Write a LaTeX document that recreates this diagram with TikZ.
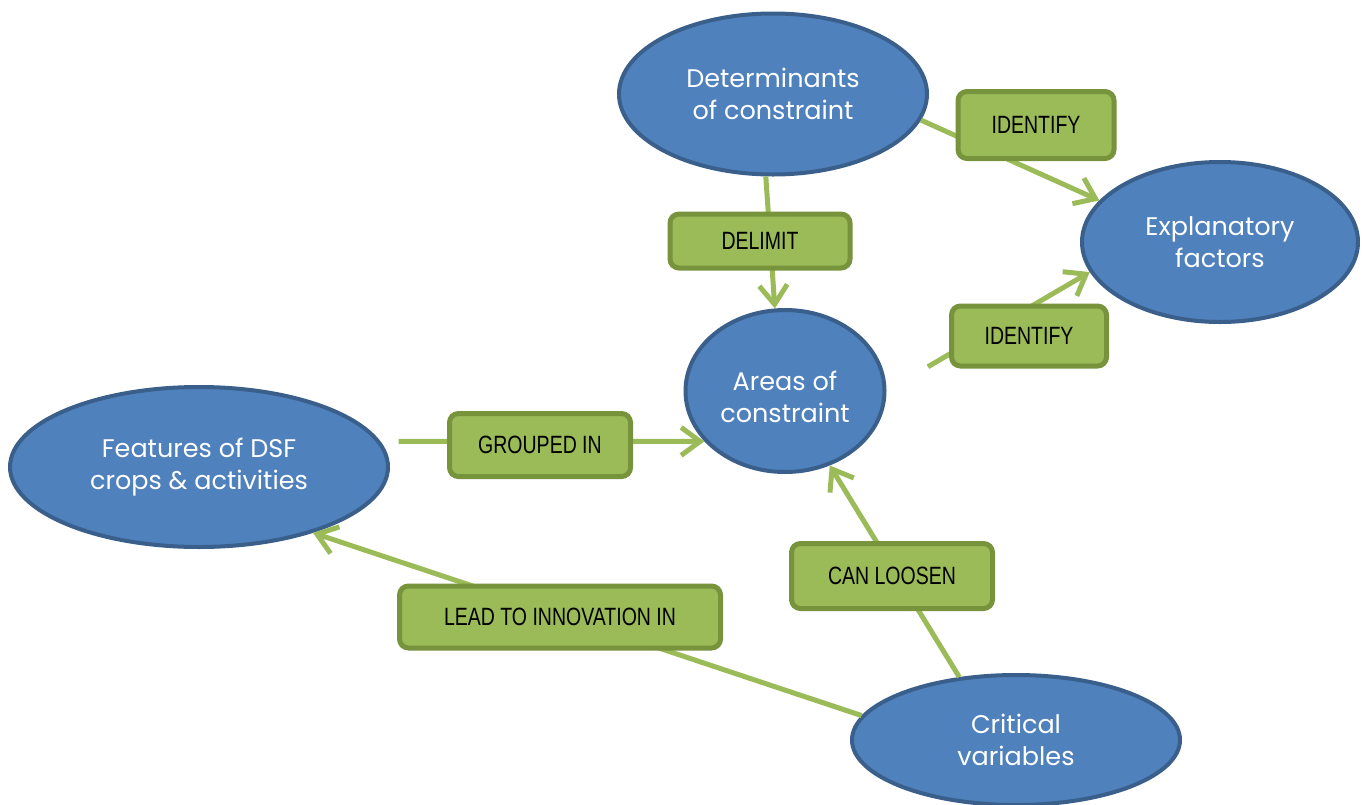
\documentclass[tikz,border=0pt]{standalone}
\usepackage{fontspec}
\usetikzlibrary{shapes.geometric,arrows.meta}
\newfontfamily\conceptfont{Poppins}
\newfontfamily\relfont[FakeStretch=0.78]{Liberation Sans}
\definecolor{ellfill}{HTML}{4F81BD}
\definecolor{ellborder}{HTML}{3A5F8B}
\definecolor{boxfill}{HTML}{9BBB59}
\definecolor{boxborder}{HTML}{77933C}
\definecolor{linegreen}{HTML}{9BBB59}
\tikzset{
  concept/.style={ellipse, draw=ellborder, fill=ellfill, line width=4pt, text=white,
    align=center, inner sep=0pt, font=\conceptfont\fontsize{25.5}{32}\selectfont},
  relbox/.style={rectangle, rounded corners=9pt, draw=boxborder, fill=boxfill,
    line width=5pt, text=black, inner sep=0pt, font=\relfont\fontsize{25}{28}\selectfont},
  conn/.style={draw=linegreen, line width=5pt, -{Straight Barb[length=19pt,width=28pt]}},
}
\begin{document}
\begin{tikzpicture}[x=1pt,y=-1pt]
\useasboundingbox (0,0) rectangle (1369,804);
% concepts
\node[concept, minimum width=308pt, minimum height=161pt] (det) at (773,94) {Determinants\\of constraint};
\node[concept, minimum width=276pt, minimum height=160pt] (expl) at (1220,242) {Explanatory\\factors};
\node[concept, minimum width=199pt, minimum height=162pt] (areas) at (785,391) {\rule{0pt}{31pt}Areas of\\constraint};
\node[concept, minimum width=378pt, minimum height=160pt] (feat) at (199,467) {Features of DSF\\crops \& activities};
\node[concept, minimum width=328pt, minimum height=130pt] (crit) at (1016,740) {Critical\\variables};
% connectors
\draw[conn] (det.-10) -- (expl.161);
\draw[conn] (det.-95) -- (areas.97);
\draw[conn, shorten <=48pt] (areas.0) -- (expl.193);
\draw[conn, shorten <=18pt] (feat.8) -- (areas.212);
\draw[conn] (crit.132) -- (areas.-59);
\draw[conn] (crit.171) -- (feat.-30);
% relation labels
\node[relbox, minimum width=156pt, minimum height=67pt] (r1) at (1036,125) {IDENTIFY};
\node[relbox, minimum width=180pt, minimum height=54pt] (r2) at (760,241) {DELIMIT};
\node[relbox, minimum width=155pt, minimum height=60pt] (r3) at (1029,336) {IDENTIFY};
\node[relbox, minimum width=181pt, minimum height=63pt] (r4) at (540,445) {GROUPED IN};
\node[relbox, minimum width=201pt, minimum height=65pt] (r5) at (892,576) {CAN LOOSEN};
\node[relbox, minimum width=321pt, minimum height=62pt] (r6) at (560,617) {LEAD TO INNOVATION IN};
\end{tikzpicture}
\end{document}
